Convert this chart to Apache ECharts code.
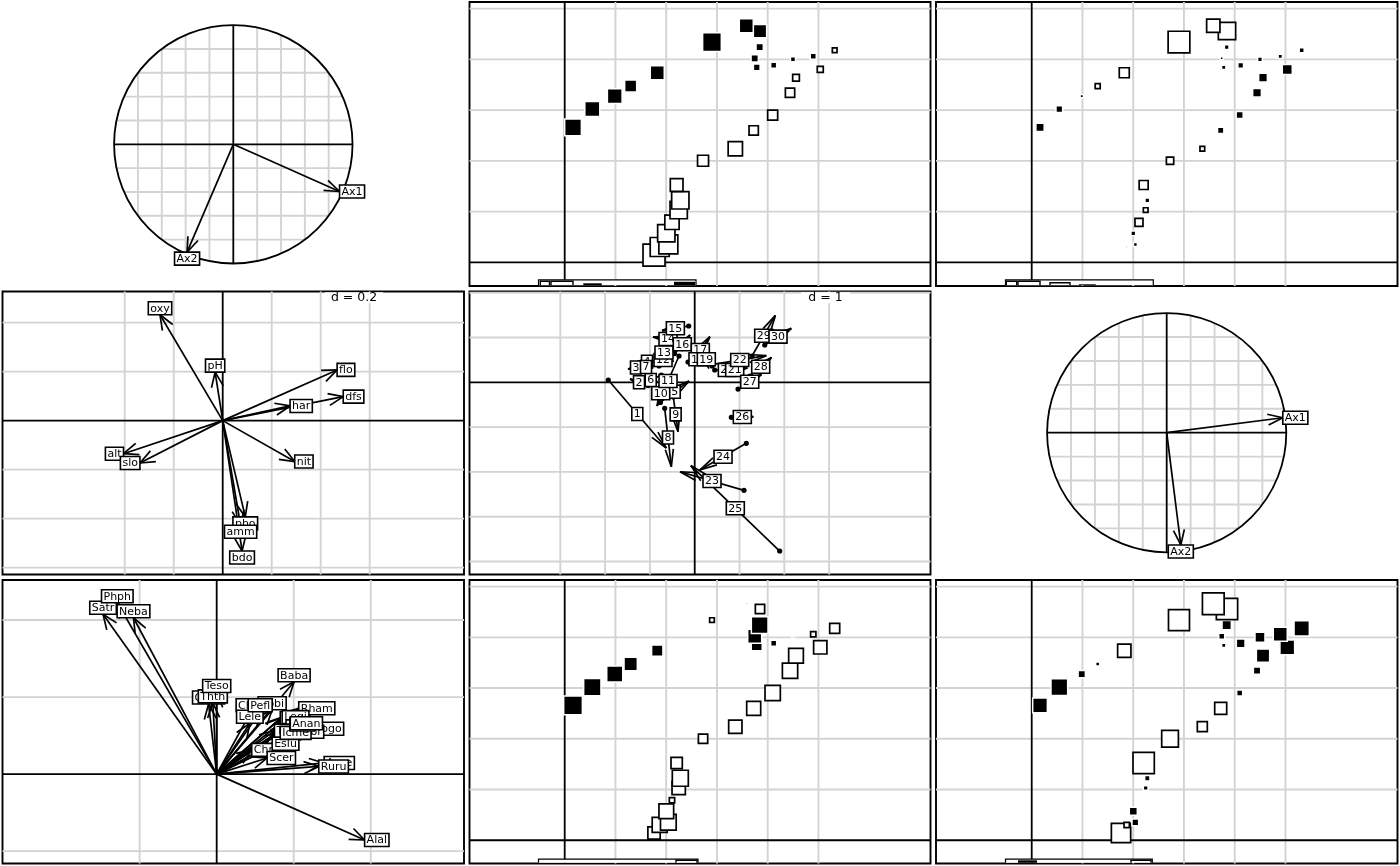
<!DOCTYPE html>
<html>
<head>
<meta charset="utf-8">
<script src="https://cdn.jsdelivr.net/npm/echarts@6.0.0/dist/echarts.min.js"></script>
<style>
html,body{margin:0;padding:0;background:#fff;}
#chart{width:1400px;height:866px;}
</style>
</head>
<body>
<div id="chart"></div>
<script>
// ================= DATA =================
// sites of the river (geographic coordinates)
const siteNames = ['1','2','3','4','5','6','7','8','9','10','11','12','13','14','15','16','17','18','19','20','21','22','23','24','25','26','27','28','29','30'];
const siteX = [88.0,93.6,102.1,100.1,105.7,112.3,113.9,110.3,136.3,168.1,186.2,204.9,222.0,227.9,251.8,266.0,244.9,224.9,205.9,189.2,187.2,192.1,192.4,178.9,145.1,91.2,65.0,49.3,27.2,8.2];
const siteY = [7.2,15.1,17.7,28.6,39.4,51.5,61.1,76.2,100.1,111.9,130.0,145.1,167.1,181.9,190.1,208.9,203.0,200.0,194.1,192.1,201.0,212.1,227.9,233.1,217.0,186.8,173.7,163.8,151.0,133.0];

// site scores mapped on the river (4 maps)
const mapScoreX1 = [-2.2,-1.9,-1.9,-1.73,-1.43,-1.73,-1.73,-1.27,-1.1,-1.43,-0.93,-1.0,-0.93,-0.67,-0.6,-0.47,0.6,0.5,0.6,0.67,0.73,0.73,1.33,1.4,1.87,1.4,1.2,1.47,1.5,1.67];
const mapScoreX2 = [0.05,0.2,0.4,0.47,-0.8,-0.47,0.47,-0.9,-0.73,-0.47,0.63,0.7,0.87,0.87,1.0,0.5,0.43,0.47,0.57,0.43,0.3,0.47,-1.73,-1.33,-2.17,-1.0,-0.5,0.33,0.67,0.83];
const mapScoreY1 = [-1.23,-1.5,-1.57,-1.47,-0.53,-1.33,-1.6,-1.13,-0.93,-1.33,-1.4,-1.53,-1.53,-1.47,-1.33,-1.0,-0.53,0.2,0.6,1.1,1.4,1.67,-0.93,0.2,-0.47,1.13,1.33,1.6,1.73,1.87];
const mapScoreY2 = [-1.93,-0.53,0.67,0.8,0.13,0.47,0.53,-2.13,-1.67,-1.0,-1.2,0.6,0.73,1.33,1.47,1.53,1.4,1.0,0.87,0.43,0.6,0.93,-2.13,-2.17,-2.1,-1.33,0.4,0.73,1.67,1.47];

// environmental variable loadings
const envNames = ['dfs','alt','slo','flo','pH','har','pho','nit','amm','oxy','bdo'];
const envAx1 = [0.492,-0.405,-0.338,0.467,-0.031,0.275,0.092,0.294,0.073,-0.256,0.079];
const envAx2 = [0.098,-0.135,-0.173,0.207,0.198,0.060,-0.393,-0.167,-0.427,0.432,-0.532];

// fish species loadings
const fishNames = ['Cogo','Satr','Phph','Neba','Thth','Teso','Chna','Chto','Lele','Lece','Baba','Spbi','Gogo','Eslu','Pefl','Rham','Legi','Scer','Cyca','Titi','Abbr','Icme','Acce','Ruru','Blbj','Alal','Anan'];
const fishAx1 = [-0.021,-0.295,-0.258,-0.216,-0.010,0.000,0.091,0.089,0.086,0.165,0.201,0.144,0.244,0.144,0.113,0.213,0.170,0.131,0.180,0.150,0.200,0.165,0.279,0.265,0.190,0.384,0.191];
const fishAx2 = [0.182,0.415,0.445,0.406,0.185,0.212,0.063,0.162,0.132,0.145,0.240,0.167,0.118,0.079,0.162,0.171,0.148,0.042,0.124,0.113,0.110,0.107,0.029,0.020,0.129,-0.171,0.132];

// matched site scores (dot = first table, arrow tip = second table)
const matchDotX = [-1.929,-1.042,-1.132,-0.797,-0.766,-0.743,-0.797,-0.670,-0.478,-0.699,-0.350,-0.551,-0.507,-0.261,-0.134,-0.449,-0.089,-0.150,0.386,0.446,0.609,0.411,1.100,1.152,1.897,0.817,0.967,1.234,1.279,1.563];
const matchDotY = [0.051,-0.074,0.364,0.467,-0.449,0.163,0.364,-0.580,-0.328,-0.029,0.587,0.542,0.721,0.922,1.257,0.641,0.424,0.453,0.364,0.275,0.230,0.402,-2.411,-1.362,-3.766,-0.781,-0.150,0.141,0.587,0.833];
const matchTipX = [-0.634,-1.444,-1.489,-1.333,-0.127,-1.221,-1.377,-0.522,-0.373,-0.819,-0.842,-0.864,-0.864,-0.931,-0.730,-0.105,0.339,0.297,0.132,1.011,1.176,1.598,-0.328,0.112,-0.085,1.308,1.489,1.712,1.801,2.156];
const matchTipY = [-1.467,0.074,0.297,0.453,0.029,-0.060,0.319,-1.884,-1.103,-0.462,-0.529,0.453,0.609,1.011,1.154,1.056,1.018,0.574,0.663,0.275,0.319,0.594,-1.996,-1.958,-1.859,-0.768,0.176,0.556,1.493,1.205];

// projection of the separate analyses axes onto the co-inertia axes
const axisNames = ['Ax1','Ax2'];
const corX1 = [0.891,-0.388];
const corX2 = [-0.396,-0.905];
const corY1 = [0.971,0.118];
const corY2 = [0.125,-0.939];

// grid ticks
const circleTicks = [-0.8,-0.6,-0.4,-0.2,0.2,0.4,0.6,0.8];
const mapTicks = [50,100,150,200,250];
const envTicksX = [-0.4,-0.2,0.2,0.4,0.6];
const envTicksY = [-0.6,-0.4,-0.2,0.2,0.4];
const matchTicksX = [-3,-2,-1,1,2,3];
const matchTicksY = [-4,-3,-2,-1,1,2];
const fishTicksX = [-0.2,0.2,0.4];
const fishTicksY = [-0.2,0.2,0.4];

// ================= LAYOUT / STYLE =================
const FONT = '11px "DejaVu Sans"';
const GRID_ST = {stroke:'#d3d3d3', lineWidth:1.9};
const AXIS_ST = {stroke:'#000', lineWidth:1.8};
const ARROW_ST = {stroke:'#000', lineWidth:1.7};
const COLS = [{l:2.5,w:461.5},{l:469.5,w:461},{l:936,w:461.5}];
const ROWS = [{t:2,h:284},{t:291.5,h:283},{t:580,h:283.5}];
const PANELS = [
  {c:0,r:0,x:[-1.936,1.935],y:[-1.189,1.194],frame:false},
  {c:1,r:0,x:[-93.8,360.4],y:[-23.3,256.5],frame:true},
  {c:2,r:0,x:[-94.3,360.4],y:[-23.3,256.5],frame:true},
  {c:0,r:1,x:[-0.899,0.985],y:[-0.628,0.527],frame:true},
  {c:1,r:1,x:[-5.027,5.263],y:[-4.290,2.027],frame:true},
  {c:2,r:1,x:[-1.929,1.930],y:[-1.186,1.181],frame:false},
  {c:0,r:2,x:[-0.556,0.642],y:[-0.232,0.504],frame:true},
  {c:1,r:2,x:[-93.8,360.4],y:[-22.9,256.5],frame:true},
  {c:2,r:2,x:[-94.3,360.4],y:[-22.9,256.5],frame:true}
];

const mctx = document.createElement('canvas').getContext('2d');
function tw(s){ mctx.font = FONT; return mctx.measureText(s).width; }

function L(a,b,st){ return {type:'line', shape:{x1:a[0],y1:a[1],x2:b[0],y2:b[1]}, style:st}; }
function head(a,b,len,ang){
  const t = Math.atan2(b[1]-a[1], b[0]-a[0]), r = ang*Math.PI/180;
  return [
    L(b,[b[0]-len*Math.cos(t-r), b[1]-len*Math.sin(t-r)],ARROW_ST),
    L(b,[b[0]-len*Math.cos(t+r), b[1]-len*Math.sin(t+r)],ARROW_ST)
  ];
}
function box(cx,cy,text){
  const w = tw(text)+4, h = 13;
  return [
    {type:'rect', shape:{x:cx-w/2,y:cy-h/2,width:w,height:h}, style:{fill:'#fff',stroke:'#000',lineWidth:1.6}},
    {type:'text', style:{text:text,x:cx,y:cy+0.5,font:FONT,fill:'#000',align:'center',verticalAlign:'middle',textAlign:'center',textVerticalAlign:'middle'}}
  ];
}
// label placement around an arrow tip (outside the arrow)
function etiCirc(o,t,text){
  const w = tw(text)+4, yh = 6.5;
  const dx = t[0]-o[0], dy = o[1]-t[1];
  let c;
  if (dx>dy && dx>-dy) c=[t[0]+w/2,t[1]];
  else if (dx>dy && dx<=-dy) c=[t[0],t[1]+yh];
  else if (dx<=dy && dx<=-dy) c=[t[0]-w/2,t[1]];
  else c=[t[0],t[1]-yh];
  return box(c[0],c[1],text);
}

const series = [];
function base(pi,z){ return {type:'custom', xAxisIndex:pi, yAxisIndex:pi, z:z, silent:true, clip:false, animation:false}; }

function rectDecor(pi,tx,ty){
  const P = PANELS[pi];
  series.push(Object.assign(base(pi,1),{
    data:[[0,0]],
    renderItem:(params,api)=>{
      const ch=[];
      tx.forEach(v=>ch.push(L(api.coord([v,P.y[0]]),api.coord([v,P.y[1]]),GRID_ST)));
      ty.forEach(v=>ch.push(L(api.coord([P.x[0],v]),api.coord([P.x[1],v]),GRID_ST)));
      ch.push(L(api.coord([0,P.y[0]]),api.coord([0,P.y[1]]),AXIS_ST));
      ch.push(L(api.coord([P.x[0],0]),api.coord([P.x[1],0]),AXIS_ST));
      return {type:'group',children:ch};
    }
  }));
}
function circleDecor(pi){
  series.push(Object.assign(base(pi,1),{
    data:[[0,0]],
    renderItem:(params,api)=>{
      const ch=[];
      circleTicks.forEach(v=>{
        const h=Math.sqrt(1-v*v);
        ch.push(L(api.coord([v,-h]),api.coord([v,h]),GRID_ST));
        ch.push(L(api.coord([-h,v]),api.coord([h,v]),GRID_ST));
      });
      ch.push(L(api.coord([-1,0]),api.coord([1,0]),AXIS_ST));
      ch.push(L(api.coord([0,-1]),api.coord([0,1]),AXIS_ST));
      const c=api.coord([0,0]), r=api.coord([1,0])[0]-c[0];
      ch.push({type:'circle',shape:{cx:c[0],cy:c[1],r:r},style:{fill:'none',stroke:'#000',lineWidth:1.8}});
      return {type:'group',children:ch};
    }
  }));
}
function arrows(pi,xs,ys,names,len,ang){
  series.push(Object.assign(base(pi,3),{
    data: xs.map((x,i)=>[x,ys[i]]),
    renderItem:(params,api)=>{
      const o=api.coord([0,0]), t=api.coord([api.value(0),api.value(1)]);
      return {type:'group',children:[L(o,t,ARROW_ST)].concat(head(o,t,len,ang))};
    }
  }));
  series.push(Object.assign(base(pi,4),{
    data: xs.map((x,i)=>[x,ys[i]]),
    renderItem:(params,api)=>{
      const o=api.coord([0,0]), t=api.coord([api.value(0),api.value(1)]);
      return {type:'group',children:etiCirc(o,t,names[params.dataIndex])};
    }
  }));
}
function valueMap(pi,vals){
  series.push({
    type:'scatter', xAxisIndex:pi, yAxisIndex:pi, z:3, silent:true, animation:false, symbol:'rect',
    data: siteX.map((x,i)=>({
      value:[x,siteY[i]],
      symbolSize: Math.max(Math.abs(vals[i])*10,0.6),
      itemStyle: vals[i]>=0 ? {color:'#000',borderColor:'#fff',borderWidth:1.5,opacity:1}
                            : {color:'#fff',borderColor:'#000',borderWidth:1.7,opacity:1}
    }))
  });
}

// panel 0 : correlation circle (first table axes)
circleDecor(0); arrows(0,corX1,corX2,axisNames,16,20);
// panels 1,2,7,8 : maps
[1,2,7,8].forEach(pi=>rectDecor(pi,mapTicks,mapTicks));
valueMap(1,mapScoreX1); valueMap(2,mapScoreX2); valueMap(7,mapScoreY1); valueMap(8,mapScoreY2);
// panel 3 : env loadings
rectDecor(3,envTicksX,envTicksY); arrows(3,envAx1,envAx2,envNames,16,22);
// panel 4 : matched scores
rectDecor(4,matchTicksX,matchTicksY);
series.push(Object.assign(base(4,3),{
  data: matchDotX.map((x,i)=>[x,matchDotY[i],matchTipX[i],matchTipY[i]]),
  renderItem:(params,api)=>{
    const a=api.coord([api.value(0),api.value(1)]), b=api.coord([api.value(2),api.value(3)]);
    return {type:'group',children:[
      {type:'circle',shape:{cx:a[0],cy:a[1],r:2.6},style:{fill:'#000'}},
      L(a,b,ARROW_ST)].concat(head(a,b,18,13))};
  }
}));
series.push(Object.assign(base(4,4),{
  data: matchDotX.map((x,i)=>[(x+matchTipX[i])/2,(matchDotY[i]+matchTipY[i])/2]),
  renderItem:(params,api)=>{
    const m=api.coord([api.value(0),api.value(1)]);
    return {type:'group',children:box(m[0],m[1],siteNames[params.dataIndex])};
  }
}));
// panel 5 : correlation circle (second table axes)
circleDecor(5); arrows(5,corY1,corY2,axisNames,16,20);
// panel 6 : species loadings
rectDecor(6,fishTicksX,fishTicksY); arrows(6,fishAx1,fishAx2,fishNames,16,22);

// ---- decorations: scale labels and clipped legends ----
const graphic = [];
function dLabel(x0,x1,y,text){
  graphic.push({type:'rect',shape:{x:x0,y:y-5.5,width:x1-x0,height:11},style:{fill:'#fff'},z:50});
  graphic.push({type:'text',style:{text:text,x:(x0+x1)/2,y:y,font:'12.5px "DejaVu Sans"',fill:'#000',align:'center',verticalAlign:'middle',textAlign:'center',textVerticalAlign:'middle'},z:51});
}
dLabel(325,383,297.8,'d = 0.2');
dLabel(801,850,297.8,'d = 1');
function legend(x0,x1,top,bot,items){
  graphic.push({type:'rect',shape:{x:x0,y:top,width:x1-x0,height:bot-top},style:{fill:'#fff'},z:50});
  graphic.push({type:'polyline',shape:{points:[[x0,bot],[x0,top],[x1,top],[x1,bot]]},style:{stroke:'#000',lineWidth:1.2,fill:null},z:51});
  items.forEach(it=>{
    if(it[3]==='b') graphic.push({type:'rect',shape:{x:it[0],y:it[2],width:it[1]-it[0],height:bot-it[2]},style:{fill:'#000'},z:52});
    else graphic.push({type:'polyline',shape:{points:[[it[0],bot],[it[0],it[2]],[it[1],it[2]],[it[1],bot]]},style:{stroke:'#000',lineWidth:1.4,fill:null},z:52});
  });
}
legend(538.5,696,279.8,285.3,[[540.3,549.5,281.3,'w'],[551,573,281.3,'w'],[583.3,601.7,283.3,'b'],[674,695,281.8,'b']]);
legend(1005.5,1153.3,279.8,285.3,[[1006.3,1016.7,281.3,'w'],[1018,1040,281.3,'w'],[1050,1070,282.8,'w'],[1079,1095.7,284.3,'b']]);
legend(538.5,698,859.2,862.8,[[676,697,860.3,'w']]);
legend(1005.5,1152.3,859.2,862.8,[[1018,1037,860.3,'b'],[1131,1151,860.3,'w']]);

const option = {
  animation:false,
  backgroundColor:'#fff',
  graphic: graphic,
  grid: PANELS.map(P=>({left:COLS[P.c].l, top:ROWS[P.r].t, width:COLS[P.c].w, height:ROWS[P.r].h,
    show:P.frame, borderColor:'#000', borderWidth:1.9, backgroundColor:'transparent', containLabel:false})),
  xAxis: PANELS.map((P,i)=>({type:'value', gridIndex:i, min:P.x[0], max:P.x[1], show:false})),
  yAxis: PANELS.map((P,i)=>({type:'value', gridIndex:i, min:P.y[0], max:P.y[1], show:false})),
  series: series
};
const chart = echarts.init(document.getElementById('chart'), null, {renderer:'canvas'});
chart.setOption(option);
</script>
</body>
</html>
